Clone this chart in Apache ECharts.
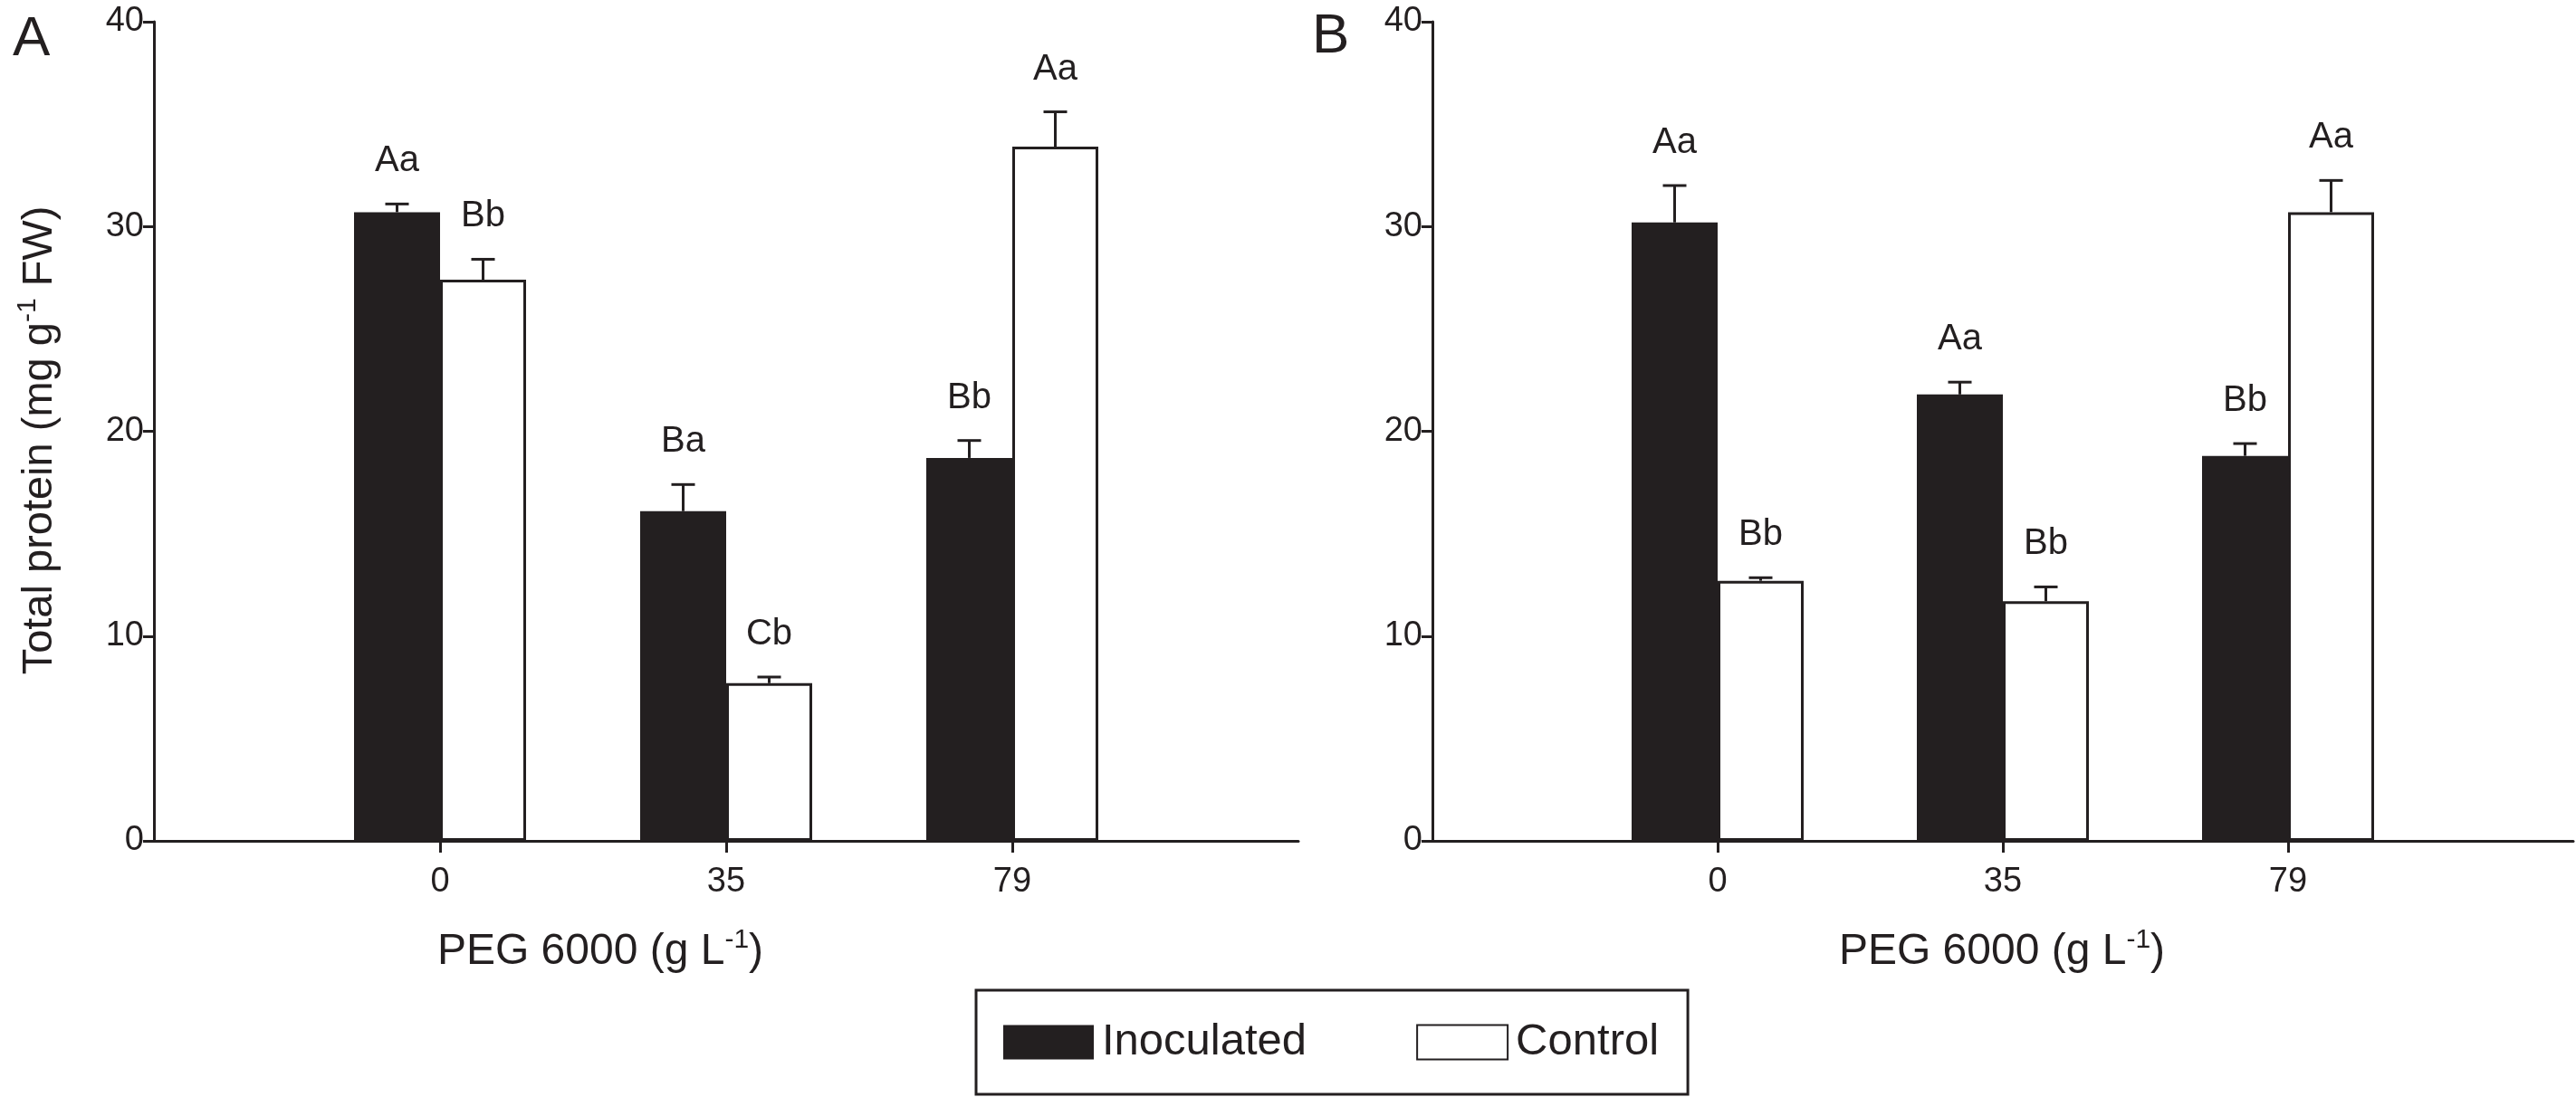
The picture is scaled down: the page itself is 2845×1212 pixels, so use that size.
<!DOCTYPE html>
<html><head><meta charset="utf-8">
<script src="https://cdn.jsdelivr.net/npm/echarts@6/dist/echarts.min.js"></script>
<style>html,body{margin:0;padding:0;background:#fff}#c{width:2845px;height:1212px}</style>
</head><body><div id="c"></div>
<script>
// ---- data ----
const categories = ['0', '35', '79'];
const inocA = [30.7, 16.1, 18.7];
const inocAErr = [0.4, 1.3, 0.85];
const ctrlA = [27.4, 7.7, 33.9];
const ctrlAErr = [1.0, 0.3, 1.7];
const inocB = [30.2, 21.8, 18.8];
const inocBErr = [1.8, 0.6, 0.6];
const ctrlB = [12.7, 11.7, 30.7];
const ctrlBErr = [0.15, 0.7, 1.55];
const lettersInocA = ['Aa', 'Ba', 'Bb'];
const lettersCtrlA = ['Bb', 'Cb', 'Aa'];
const lettersInocB = ['Aa', 'Aa', 'Bb'];
const lettersCtrlB = ['Bb', 'Bb', 'Aa'];
const yMin = 0, yMax = 40, yStep = 10;
const seriesNames = ['Inoculated', 'Control'];
const panelLabels = ['A', 'B'];

// ---- style ----
const BLACK = '#231f20';
const FONT = '"Liberation Sans", Arial, Helvetica, sans-serif';
const BAR_W = 95;
const xData = [''].concat(categories, ['']);

function padded(arr) { return [null].concat(arr, [null]); }

function errRenderer(letters, side) {
  return function (params, api) {
    const i = api.value(0), m = api.value(1), e = api.value(2);
    const p0 = api.coord([i, m]);
    const p1 = api.coord([i, m + e]);
    const x = p0[0] + side * BAR_W / 2;
    return {
      type: 'group',
      children: [
        { type: 'line', shape: { x1: x, y1: p0[1], x2: x, y2: p1[1] }, style: { stroke: BLACK, lineWidth: 3 } },
        { type: 'line', shape: { x1: x - 13, y1: p1[1], x2: x + 13, y2: p1[1] }, style: { stroke: BLACK, lineWidth: 3 } },
        { type: 'text', style: { text: letters[params.dataIndex], x: x, y: p1[1] - 47, align: 'center', verticalAlign: 'middle', fontSize: 40, fontFamily: FONT, fill: BLACK } }
      ]
    };
  };
}

function errData(means, errs) {
  return means.map((m, k) => [k + 1, m, errs[k]]);
}

const grids = [
  { left: 170, top: 24, width: 1264, height: 905 },
  { left: 1582, top: 24, width: 1263, height: 905 }
];

function xAxis(gi) {
  return {
    type: 'category', gridIndex: gi, data: xData, boundaryGap: false,
    axisLine: { lineStyle: { color: BLACK, width: 3 } },
    axisTick: { show: true, length: 13, lineStyle: { color: BLACK, width: 3 }, interval: (idx) => idx > 0 && idx < xData.length - 1 },
    axisLabel: { color: BLACK, fontSize: 38, fontFamily: FONT, margin: 27, interval: 0 },
    splitLine: { show: false }
  };
}
function yAxis(gi, withName) {
  const a = {
    type: 'value', gridIndex: gi, min: yMin, max: yMax, interval: yStep,
    axisLine: { show: true, lineStyle: { color: BLACK, width: 3 } },
    axisTick: { show: true, length: 12, lineStyle: { color: BLACK, width: 3 } },
    axisLabel: { color: BLACK, fontSize: 38, fontFamily: FONT, margin: 11 },
    splitLine: { show: false }
  };
  if (withName) {
    a.name = 'Total protein (mg g{sup|-1} FW)';
    a.nameLocation = 'middle';
    a.nameGap = 98;
    a.nameTextStyle = { color: BLACK, fontSize: 47, fontFamily: FONT, lineHeight: 56, padding: [0, 20, 0, 0],
      rich: { sup: { fontSize: 30, lineHeight: 30, verticalAlign: 'top', fontFamily: FONT, color: BLACK } } };
  }
  return a;
}

function barSeries(name, data, gi, isInoc) {
  return {
    type: 'bar', name: name, xAxisIndex: gi, yAxisIndex: gi, data: padded(data),
    barWidth: BAR_W, barGap: '0%',
    itemStyle: isInoc ? { color: BLACK, borderColor: BLACK, borderWidth: 0 } : { color: '#ffffff', borderColor: BLACK, borderWidth: 3 },
    emphasis: { disabled: true }, z: 2
  };
}
function errSeries(means, errs, letters, side, gi) {
  return {
    type: 'custom', xAxisIndex: gi, yAxisIndex: gi, data: errData(means, errs),
    renderItem: errRenderer(letters, side), z: 5, silent: true
  };
}

function titleText(x, y) {
  return {
    type: 'text', x: x, y: y,
    style: { text: 'PEG 6000 (g L{sup|-1})', align: 'center', verticalAlign: 'middle', fontSize: 48, lineHeight: 56, fontFamily: FONT, fill: BLACK,
      rich: { sup: { fontSize: 30, lineHeight: 30, verticalAlign: 'top', fontFamily: FONT, fill: BLACK } } }
  };
}

const option = {
  animation: false,
  backgroundColor: '#ffffff',
  grid: grids,
  xAxis: [xAxis(0), xAxis(1)],
  yAxis: [yAxis(0, true), yAxis(1, false)],
  legend: {
    data: seriesNames.map(n => ({ name: n, icon: 'rect' })),
    left: 1078, top: 1094,
    orient: 'horizontal',
    itemWidth: 100, itemHeight: 38, itemGap: 121,
    padding: [33, 32, 33, 30],
    borderColor: BLACK, borderWidth: 3,
    selectedMode: false,
    textStyle: { color: BLACK, fontSize: 49, fontFamily: FONT, padding: [0, 0, 0, 4] }
  },
  graphic: [
    titleText(663, 1052),
    titleText(2211, 1052),
    { type: 'text', x: 14, y: 44, style: { text: panelLabels[0], align: 'left', verticalAlign: 'middle', fontSize: 62, fontFamily: FONT, fill: BLACK } },
    { type: 'text', x: 1449, y: 41, style: { text: panelLabels[1], align: 'left', verticalAlign: 'middle', fontSize: 62, fontFamily: FONT, fill: BLACK } }
  ],
  series: [
    barSeries(seriesNames[0], inocA, 0, true),
    barSeries(seriesNames[1], ctrlA, 0, false),
    barSeries(seriesNames[0], inocB, 1, true),
    barSeries(seriesNames[1], ctrlB, 1, false),
    errSeries(inocA, inocAErr, lettersInocA, -1, 0),
    errSeries(ctrlA, ctrlAErr, lettersCtrlA, 1, 0),
    errSeries(inocB, inocBErr, lettersInocB, -1, 1),
    errSeries(ctrlB, ctrlBErr, lettersCtrlB, 1, 1)
  ]
};

const chart = echarts.init(document.getElementById('c'));
chart.setOption(option);
</script>
</body></html>
